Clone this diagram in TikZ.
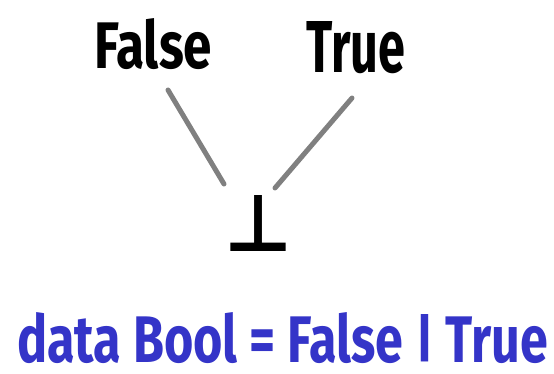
\documentclass[tikz,border=0pt]{standalone}
\usepackage{fontspec}
\setmainfont{Fira Sans}
\newfontfamily\symfont{DejaVu Sans}
\definecolor{inkblue}{RGB}{52,52,200}
\definecolor{stemgray}{RGB}{128,128,128}
\tikzset{
    word/.style={inner sep=0pt, anchor=base west, font=\bfseries},
    stem/.style={line width=5pt, line cap=round, draw=stemgray}
}
% squeeze a word into a box of given width and height
\newcommand{\fitword}[3]{\resizebox{#1pt}{#2pt}{#3}}
% a bar that sits on the base line
\newcommand{\basebar}{\resizebox{\width}{0.72em}{\raisebox{\depth}{|}}}

\begin{document}
\begin{tikzpicture}[x=1pt,y=-1pt]
    \useasboundingbox (0,0) rectangle (554,373);

    % the two values
    \node[word] (false) at (94,68) {\fitword{118}{50}{False}};
    \node[word] (true) at (306,72) {\fitword{99}{51}{True}};

    % bottom
    \node[inner sep=0pt, anchor=base] (bot) at (258.5,251) {\fitword{68}{56}{\symfont\bfseries ⊥}};

    % the stems
    \coordinate (fs) at (168,90);
    \coordinate (fe) at (224,184);
    \coordinate (ts) at (352,98);
    \coordinate (te) at (275,188);
    \draw[stem] (fs) -- (fe);
    \draw[stem] (ts) -- (te);

    % declaration
    \node[word, text=inkblue] (decl) at (17,362) {\fitword{531}{50}{data Bool = False \basebar{} True}};
\end{tikzpicture}
\end{document}
